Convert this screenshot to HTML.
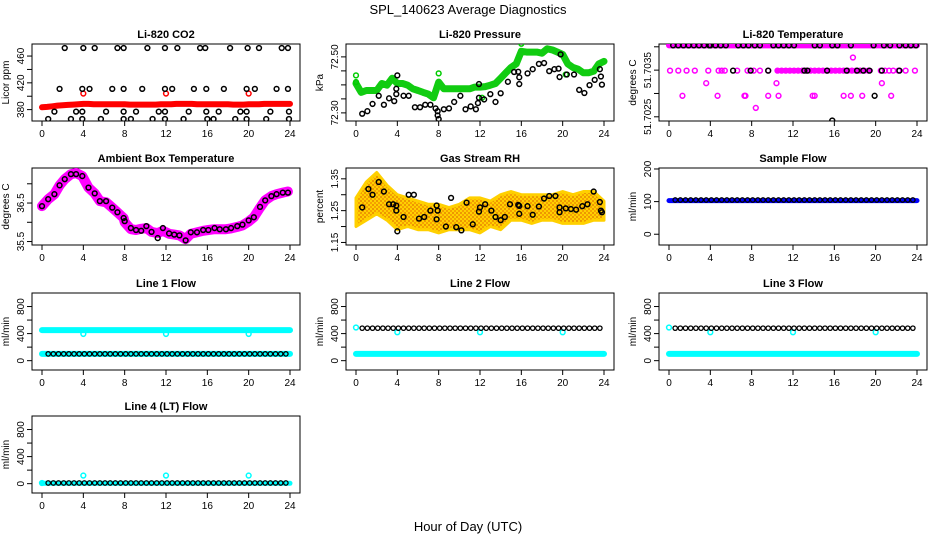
<!DOCTYPE html>
<html><head><meta charset="utf-8">
<style>
html,body{margin:0;padding:0;background:#fff;}
svg{display:block;font-family:"Liberation Sans",sans-serif;}
</style></head>
<body>
<svg id="chart" width="936" height="540" viewBox="0 0 936 540" xmlns="http://www.w3.org/2000/svg">
<defs>
<pattern id="rhpat" width="4" height="4" patternUnits="userSpaceOnUse">
<rect width="4" height="4" fill="#ffd000"/>
<circle cx="1" cy="1" r="0.9" fill="#e07000"/>
<circle cx="3" cy="3" r="0.9" fill="#f08000"/>
</pattern>
</defs>
<text x="468" y="14" font-size="13" text-anchor="middle">SPL_140623  Average Diagnostics</text>
<text x="468" y="531" font-size="13" text-anchor="middle">Hour of Day (UTC)</text>
</svg>
<script>
// ---------- DATA ----------
const hourTicks = [0,4,8,12,16,20,24];
const halfHours = [0,0.5,1,1.5,2,2.5,3,3.5,4,4.5,5,5.5,6,6.5,7,7.5,8,8.5,9,9.5,10,10.5,11,11.5,12,12.5,13,13.5,14,14.5,15,15.5,16,16.5,17,17.5,18,18.5,19,19.5,20,20.5,21,21.5,22,22.5,23,23.5,24];
const wholeHours = [0,1,2,3,4,5,6,7,8,9,10,11,12,13,14,15,16,17,18,19,20,21,22,23,24];

// CO2
const co2HiTimes = [2.2,4.0,5.1,7.3,7.9,10.2,11.9,13.1,15.3,15.8,18.2,19.9,21.0,23.2,23.8];
const co2HiVals = [472,472,472,472,472,472,472,472,472,472,472,472,472,472,472];
const co2MidTimes = [1.7,3.9,4.6,6.8,7.9,9.7,11.9,12.6,14.7,15.9,17.6,19.8,20.6,22.7,23.8];
const co2MidVals = [411,411,411,411,411,411,411,411,411,411,411,411,411,411,411];
const co2LowTimes = [1.2,3.3,3.9,6.2,7.9,9.1,11.3,11.9,14.2,15.9,17.1,19.2,19.8,22.1,23.9];
const co2LowVals = [377,377,377,377,377,377,377,377,377,377,377,377,377,377,377];
const co2MinTimes = [0.6,2.8,3.9,5.7,7.9,8.6,10.7,11.9,13.7,16.0,16.6,18.7,19.8,21.7,23.9];
const co2MinVals = [366,366,366,366,366,366,366,366,366,366,366,366,366,366,366];
const co2Red = [383.5,384,385,386,386.5,387,387.5,388,388.5,388.5,388,388,388,388,388,388,388,387.5,387.5,387.5,387.5,387.5,387.5,388,388,388,388.5,388.5,388.5,388.5,388,388,388,388,388,388,388,387.5,387.5,387.5,388,388,388,388.5,388.5,388.5,388.5,388.5,388.5];
const co2RedOpenTimes = [4,12,20];
const co2RedOpenVals = [404,404,404];

// Pressure
const presBlackTimes = [0.6,1.1,1.6,2.2,2.7,3.2,3.7,3.9,3.9,4,4.6,5.1,5.7,6.2,6.7,7.2,7.7,7.9,7.9,8,8.5,9,9.5,10.1,10.6,11.1,11.6,11.8,11.9,11.9,12.4,13,13.5,14,14.7,15.3,15.7,15.8,15.8,16.6,17.1,17.7,18.2,18.7,19.2,19.6,19.7,19.8,20.4,21.1,21.6,22.1,22.6,23.1,23.6,23.7,23.8];
const presBlackVals = [72.297,72.306,72.332,72.361,72.329,72.352,72.342,72.367,72.386,72.434,72.361,72.361,72.320,72.320,72.329,72.329,72.316,72.306,72.291,72.278,72.313,72.316,72.339,72.361,72.313,72.323,72.313,72.335,72.354,72.403,72.348,72.367,72.339,72.370,72.411,72.446,72.447,72.427,72.403,72.441,72.456,72.475,72.478,72.449,72.456,72.458,72.428,72.509,72.437,72.437,72.382,72.371,72.399,72.418,72.456,72.430,72.401];
const presGreen = [72.405,72.373,72.38,72.38,72.38,72.405,72.399,72.424,72.405,72.405,72.399,72.386,72.38,72.373,72.367,72.354,72.41,72.386,72.386,72.386,72.386,72.386,72.386,72.392,72.392,72.394,72.399,72.405,72.424,72.443,72.462,72.475,72.52,72.517,72.517,72.517,72.513,72.529,72.525,72.517,72.509,72.475,72.462,72.456,72.443,72.443,72.449,72.475,72.484];
const presGreenOpenTimes = [0,0,8,16,12.2,20.3];
const presGreenOpenVals = [72.434,72.41,72.441,72.547,72.354,72.437];

// Li-820 Temperature
const tempMagentaTop = [51.70403,51.70403,51.70403,51.70403,51.70403,51.70403,51.70403,51.70403,51.70403,51.70403,51.70403,51.70403,51.70403,51.70403,51.70403,51.70403,51.70403,51.70403,51.70403,51.70403,51.70403,51.70403,51.70403,51.70403,51.70403];
const tempMagMidTimes = [0.1,0.9,1.7,2.5,3.8,4.8,5.1,5.4,6.6,7.6,8.2,8.8,9.6,10.5,10.9,11.3,11.7,12.1,12.5,12.9,13.3,13.7,14.1,14.5,14.9,15.3,15.7,16.1,16.5,16.9,17.3,17.7,18.1,18.5,18.9,19.3,20.5,20.9,21.3,21.7,22.2,22.9,23.8];
const tempMagMidVals = [51.70349,51.70349,51.70349,51.70349,51.70349,51.70349,51.70349,51.70349,51.70349,51.70349,51.70349,51.70349,51.70349,51.70349,51.70349,51.70349,51.70349,51.70349,51.70349,51.70349,51.70349,51.70349,51.70349,51.70349,51.70349,51.70349,51.70349,51.70349,51.70349,51.70349,51.70349,51.70349,51.70349,51.70349,51.70349,51.70349,51.70349,51.70349,51.70349,51.70349,51.70349,51.70349,51.70349];
const tempMagLowTimes = [1.3,4.7,7.3,7.4,9.6,10.6,13.9,14.1,16.9,17.6,18.7,21.5,3.6,10.4,20.6,17.8,8.4];
const tempMagLowVals = [51.70295,51.70295,51.70295,51.70295,51.70295,51.70295,51.70295,51.70295,51.70295,51.70295,51.70295,51.70295,51.70322,51.70322,51.70322,51.70377,51.70269];
const tempBlackTopTimes = [0.4,0.9,1.4,1.9,2.4,2.9,3.4,3.9,4.0,4.5,5.0,5.5,6.7,7.2,7.7,8.3,8.8,10.1,10.6,11.1,11.6,12.1,14.1,14.6,15.8,16.3,17.6,19.8,20.8,21.4,22.3,22.9,23.4,23.9];
const tempBlackTopVals = [51.70403,51.70403,51.70403,51.70403,51.70403,51.70403,51.70403,51.70403,51.70403,51.70403,51.70403,51.70403,51.70403,51.70403,51.70403,51.70403,51.70403,51.70403,51.70403,51.70403,51.70403,51.70403,51.70403,51.70403,51.70403,51.70403,51.70403,51.70403,51.70403,51.70403,51.70403,51.70403,51.70403,51.70403];
const tempBlackOtherTimes = [6.2,7.9,9.6,13.1,13.4,15.3,17.2,18.2,18.8,19.4,20.6,22.3,19.9,15.8];
const tempBlackOtherVals = [51.70349,51.70349,51.70349,51.70349,51.70349,51.70349,51.70349,51.70349,51.70349,51.70349,51.70349,51.70349,51.70295,51.70242];

// Ambient box temperature
const ambTimes = [0,0.6,1.2,1.7,2.2,2.8,3.3,3.9,4.5,5.1,5.6,6.2,6.8,7.3,7.9,8.0,8.6,9.1,9.6,10.1,10.6,11.2,11.7,12.3,12.8,13.3,13.9,14.4,15.0,15.6,16.1,16.7,17.2,17.8,18.3,18.9,19.4,20.0,20.5,21.1,21.6,22.2,22.7,23.3,23.8];
const ambBlack = [36.42,36.6,36.73,36.96,37.12,37.25,37.25,37.2,36.9,36.75,36.55,36.55,36.38,36.26,36.11,36.03,35.85,35.8,35.78,35.9,35.75,35.59,35.85,35.71,35.68,35.66,35.53,35.74,35.74,35.8,35.8,35.85,35.82,35.82,35.85,35.9,35.94,36.05,36.13,36.4,36.57,36.68,36.73,36.77,36.77];
const ambMagenta = [36.42,36.6,36.73,36.96,37.12,37.25,37.28,37.2,36.9,36.75,36.55,36.52,36.38,36.26,36.11,36.0,35.82,35.8,35.83,35.85,35.75,35.72,35.78,35.7,35.68,35.66,35.56,35.7,35.74,35.78,35.8,35.82,35.82,35.82,35.84,35.88,35.92,36.02,36.13,36.38,36.57,36.68,36.73,36.77,36.8];

// Gas Stream RH
const rhBlackTimes = [0.6,1.2,1.6,2.2,2.7,3.2,3.6,3.9,3.9,4,4.6,5.1,5.6,6.1,6.6,7.2,7.8,7.8,7.9,8.7,9.2,9.7,10.2,10.7,11.3,11.9,12,12.5,13.1,13.5,14,14.4,14.9,15.7,15.8,15.8,16.6,17.1,17.7,18.2,18.7,19.3,19.7,19.7,20.3,20.8,21.3,21.9,22.4,23,23.6,23.7,23.8];
const rhBlackVals = [1.26,1.318,1.30,1.34,1.31,1.27,1.27,1.266,1.25,1.185,1.23,1.30,1.30,1.225,1.23,1.25,1.223,1.266,1.25,1.20,1.29,1.198,1.188,1.275,1.207,1.247,1.26,1.27,1.25,1.23,1.22,1.23,1.27,1.268,1.265,1.24,1.264,1.237,1.263,1.288,1.296,1.296,1.26,1.245,1.257,1.255,1.253,1.264,1.27,1.31,1.277,1.25,1.245];
const rhCloudHi = [1.29,1.34,1.37,1.33,1.30,1.29,1.28,1.27,1.27,1.26,1.27,1.29,1.29,1.28,1.30,1.31,1.30,1.30,1.30,1.30,1.31,1.30,1.31,1.31,1.28];
const rhCloudLo = [1.20,1.22,1.24,1.22,1.19,1.20,1.19,1.19,1.18,1.19,1.19,1.19,1.18,1.20,1.19,1.22,1.22,1.21,1.22,1.22,1.21,1.21,1.21,1.22,1.22];

// Flows
const flowBlackTimes = [0.6,1.1,1.6,2.1,2.6,3.1,3.6,4.1,4.6,5.1,5.6,6.1,6.6,7.1,7.6,8.1,8.6,9.1,9.6,10.1,10.6,11.1,11.6,12.1,12.6,13.1,13.6,14.1,14.6,15.1,15.6,16.1,16.6,17.1,17.6,18.1,18.6,19.1,19.6,20.1,20.6,21.1,21.6,22.1,22.6,23.1,23.6];
const sampleBlack = [105,105,105,105,105,105,105,105,105,105,105,105,105,105,105,105,105,105,105,105,105,105,105,105,105,105,105,105,105,105,105,105,105,105,105,105,105,105,105,105,105,105,105,105,105,105,105];
const sampleBlue = [103,103,103,103,103,103,103,103,103,103,103,103,103,103,103,103,103,103,103,103,103,103,103,103,103];
const line1Black = [100,100,100,100,100,100,100,100,100,100,100,100,100,100,100,100,100,100,100,100,100,100,100,100,100,100,100,100,100,100,100,100,100,100,100,100,100,100,100,100,100,100,100,100,100,100,100];
const line1CyanHi = [452,452,452,452,452,452,452,452,452,452,452,452,452,452,452,452,452,452,452,452,452,452,452,452,452];
const line1CyanLo = [100,100,100,100,100,100,100,100,100,100,100,100,100,100,100,100,100,100,100,100,100,100,100,100,100];
const line2Black = [480,480,480,480,480,480,480,480,480,480,480,480,480,480,480,480,480,480,480,480,480,480,480,480,480,480,480,480,480,480,480,480,480,480,480,480,480,480,480,480,480,480,480,480,480,480,480];
const line2Cyan = [100,100,100,100,100,100,100,100,100,100,100,100,100,100,100,100,100,100,100,100,100,100,100,100,100];
const line3Black = [480,480,480,480,480,480,480,480,480,480,480,480,480,480,480,480,480,480,480,480,480,480,480,480,480,480,480,480,480,480,480,480,480,480,480,480,480,480,480,480,480,480,480,480,480,480,480];
const line3Cyan = [100,100,100,100,100,100,100,100,100,100,100,100,100,100,100,100,100,100,100,100,100,100,100,100,100];
const line4Black = [10,10,10,10,10,10,10,10,10,10,10,10,10,10,10,10,10,10,10,10,10,10,10,10,10,10,10,10,10,10,10,10,10,10,10,10,10,10,10,10,10,10,10,10,10,10,10];
const line4Cyan = [5,5,5,5,5,5,5,5,5,5,5,5,5,5,5,5,5,5,5,5,5,5,5,5,5];
const dipTimes = [4,12,20];
const line1DipVals = [395,395,395];
const line23OpenTimes = [0,4,12,20];
const line23OpenVals = [490,420,420,420];
const line4OpenTimes = [0,4,12,20];
const line4OpenVals = [10,120,120,120];

// ---------- DRAWING ----------
const NS = "http://www.w3.org/2000/svg";
const svg = document.getElementById('chart');
function mk(tag, attrs, parent){
  const e = document.createElementNS(NS, tag);
  for (const k in attrs) e.setAttribute(k, attrs[k]);
  (parent||svg).appendChild(e);
  return e;
}
const colX = [32,346,659];
const rowY = [44,168,293,416];
const BW = 268, BH = 77;

function panel(name, col, row, title, ytitle, dom, ticks, labels){
  const g = mk('g', {});
  
  
  const bx = colX[col], by = rowY[row];
  const x = h => bx + 10 + h * 248 / 24;
  const y = v => by + BH - (v - dom[0]) / (dom[1] - dom[0]) * BH;
  const box = mk('rect', {x:bx, y:by, width:BW, height:BH, fill:'none', stroke:'#000', 'stroke-width':1}, g);
  
  
  const t = mk('text', {x:bx + BW/2, y:by - 6, 'font-size':11, 'font-weight':'bold', 'text-anchor':'middle'}, g);
  t.textContent = title;
  
  
  const yt = mk('text', {x:0, y:0, 'font-size':10, 'text-anchor':'middle', transform:'translate(' + (bx-23) + ',' + (by+BH/2) + ') rotate(-90)'}, g);
  yt.textContent = ytitle;
  
  
  const xa = mk('g', {}, g);
  
  
  mk('line', {x1:x(0), x2:x(24), y1:by+BH, y2:by+BH, stroke:'#000'}, xa);
  hourTicks.forEach(h => {
    mk('line', {x1:x(h), x2:x(h), y1:by+BH, y2:by+BH+5, stroke:'#000'}, xa);
    const l = mk('text', {x:x(h), y:by+BH+16, 'font-size':10, 'text-anchor':'middle'}, xa);
    l.textContent = h;
    
    
  });
  const ya = mk('g', {}, g);
  
  
  mk('line', {x1:bx, x2:bx, y1:y(ticks[0]), y2:y(ticks[ticks.length-1]), stroke:'#000'}, ya);
  ticks.forEach(v => mk('line', {x1:bx-5, x2:bx, y1:y(v), y2:y(v), stroke:'#000'}, ya));
  labels.forEach(lb => {
    const l = mk('text', {x:0, y:0, 'font-size':10, 'text-anchor':'middle', transform:'translate(' + (bx-8) + ',' + y(lb[0]) + ') rotate(-90)'}, ya);
    l.textContent = lb[1];
    
    
  });
  const clip = 'clip-' + name;
  const cp = mk('clipPath', {id:clip}, g);
  mk('rect', {x:bx, y:by, width:BW, height:BH}, cp);
  const marks = mk('g', {'clip-path':'url(#' + clip + ')'}, g);
  
  
  return {x, y, g:marks};
}
function points(p, times, vals, color, sname, r, sw){
  const gg = mk('g', {}, p.g);
  
  
  for (let i = 0; i < times.length; i++){
    const c = mk('circle', {cx:p.x(times[i]), cy:p.y(vals[i]), r:r||2.4, fill:'none', stroke:color, 'stroke-width':sw||1.5}, gg);
    
    
  }
}
function band(p, times, vals, color, sname, w){
  const d = times.map((t,i) => (i ? 'L' : 'M') + p.x(t).toFixed(1) + ' ' + p.y(vals[i]).toFixed(1)).join(' ');
  const e = mk('path', {d:d, fill:'none', stroke:color, 'stroke-width':w, 'stroke-linecap':'round', 'stroke-linejoin':'round'}, p.g);
  
  
}

// 1 CO2
let p = panel('co2', 0, 0, 'Li-820 CO2', 'Licor ppm', [363,478], [380,400,420,440,460], [[380,'380'],[420,'420'],[460,'460']]);
band(p, halfHours, co2Red, '#f00', 'co2-red-series', 6);
points(p, co2RedOpenTimes, co2RedOpenVals, '#f00', 'co2-red-open');
points(p, co2HiTimes, co2HiVals, '#000', 'co2-black-high');
points(p, co2MidTimes, co2MidVals, '#000', 'co2-black-mid');
points(p, co2LowTimes, co2LowVals, '#000', 'co2-black-low');
points(p, co2MinTimes, co2MinVals, '#000', 'co2-black-min');

// 2 Pressure
p = panel('pressure', 1, 0, 'Li-820 Pressure', 'kPa', [72.271,72.546], [72.30,72.35,72.40,72.45,72.50], [[72.30,'72.30'],[72.50,'72.50']]);
band(p, halfHours, presGreen, '#1c1', 'pressure-green-series', 7);
points(p, presGreenOpenTimes, presGreenOpenVals, '#0c0', 'pressure-green-open');
points(p, presBlackTimes, presBlackVals, '#000', 'pressure-black-series');

// 3 Li-820 temp
p = panel('li820-temp', 2, 0, 'Li-820 Temperature', 'degrees C', [51.70241,51.70406], [51.7025,51.7030,51.7035,51.7040], [[51.7025,'51.7025'],[51.7035,'51.7035']]);
band(p, wholeHours, tempMagentaTop, '#f0f', 'temp-magenta-top', 6);
points(p, tempMagMidTimes, tempMagMidVals, '#f0f', 'temp-magenta-mid');
band(p, [10.5,19.5], [51.70349,51.70349], '#f0f', 'temp-magenta-mid-dense', 5);
points(p, tempMagLowTimes, tempMagLowVals, '#f0f', 'temp-magenta-low');
points(p, tempBlackTopTimes, tempBlackTopVals, '#000', 'temp-black-top');
points(p, tempBlackOtherTimes, tempBlackOtherVals, '#000', 'temp-black-other');

// 4 Ambient
p = panel('ambient', 0, 1, 'Ambient Box Temperature', 'degrees C', [35.41,37.41], [35.5,36.0,36.5,37.0], [[35.5,'35.5'],[36.5,'36.5']]);
band(p, ambTimes, ambMagenta, '#f0f', 'ambient-magenta-series', 10);
points(p, ambTimes, ambBlack, '#000', 'ambient-black-series');

// 5 RH
p = panel('rh', 1, 1, 'Gas Stream RH', 'percent', [1.142,1.384], [1.15,1.20,1.25,1.30,1.35], [[1.15,'1.15'],[1.25,'1.25'],[1.35,'1.35']]);
(function(){
  const up = wholeHours.map((t,i) => p.x(t).toFixed(1) + ',' + p.y(rhCloudHi[i]).toFixed(1));
  const dn = wholeHours.map((t,i) => p.x(t).toFixed(1) + ',' + p.y(rhCloudLo[i]).toFixed(1)).reverse();
  const e = mk('polygon', {points: up.concat(dn).join(' '), fill:'url(#rhpat)', stroke:'#ffd000', 'stroke-width':3, 'stroke-linejoin':'round'}, p.g);
  
  
})();
points(p, rhBlackTimes, rhBlackVals, '#000', 'rh-black-series');

// 6 Sample flow
p = panel('sample-flow', 2, 1, 'Sample Flow', 'ml/min', [-33,203], [0,100,200], [[0,'0'],[100,'100'],[200,'200']]);
band(p, wholeHours, sampleBlue, '#00f', 'sample-blue-series', 5);
points(p, flowBlackTimes, sampleBlack, '#000', 'sample-black-series', 2.2, 1.3);

const fDom = [-138,1000], fTicks = [0,200,400,600,800], fLab = [[0,'0'],[400,'400'],[800,'800']];
// 7 Line 1
p = panel('line1', 0, 2, 'Line 1 Flow', 'ml/min', fDom, fTicks, fLab);
band(p, wholeHours, line1CyanHi, '#0ff', 'line1-cyan-high', 6);
band(p, wholeHours, line1CyanLo, '#0ff', 'line1-cyan-low', 6);
points(p, dipTimes, line1DipVals, '#0ff', 'line1-cyan-dips');
points(p, flowBlackTimes, line1Black, '#000', 'line1-black-series', 2.2, 1.3);
// 8 Line 2
p = panel('line2', 1, 2, 'Line 2 Flow', 'ml/min', fDom, fTicks, fLab);
band(p, wholeHours, line2Cyan, '#0ff', 'line2-cyan-series', 6);
points(p, line23OpenTimes, line23OpenVals, '#0ff', 'line2-cyan-open');
points(p, flowBlackTimes, line2Black, '#000', 'line2-black-series', 2.2, 1.3);
// 9 Line 3
p = panel('line3', 2, 2, 'Line 3 Flow', 'ml/min', fDom, fTicks, fLab);
band(p, wholeHours, line3Cyan, '#0ff', 'line3-cyan-series', 6);
points(p, line23OpenTimes, line23OpenVals, '#0ff', 'line3-cyan-open');
points(p, flowBlackTimes, line3Black, '#000', 'line3-black-series', 2.2, 1.3);
// 10 Line 4
p = panel('line4', 0, 3, 'Line 4 (LT) Flow', 'ml/min', fDom, fTicks, fLab);
band(p, wholeHours, line4Cyan, '#0ff', 'line4-cyan-series', 5);
points(p, line4OpenTimes, line4OpenVals, '#0ff', 'line4-cyan-open');
points(p, flowBlackTimes, line4Black, '#000', 'line4-black-series', 2.2, 1.3);
</script>
</body></html>
